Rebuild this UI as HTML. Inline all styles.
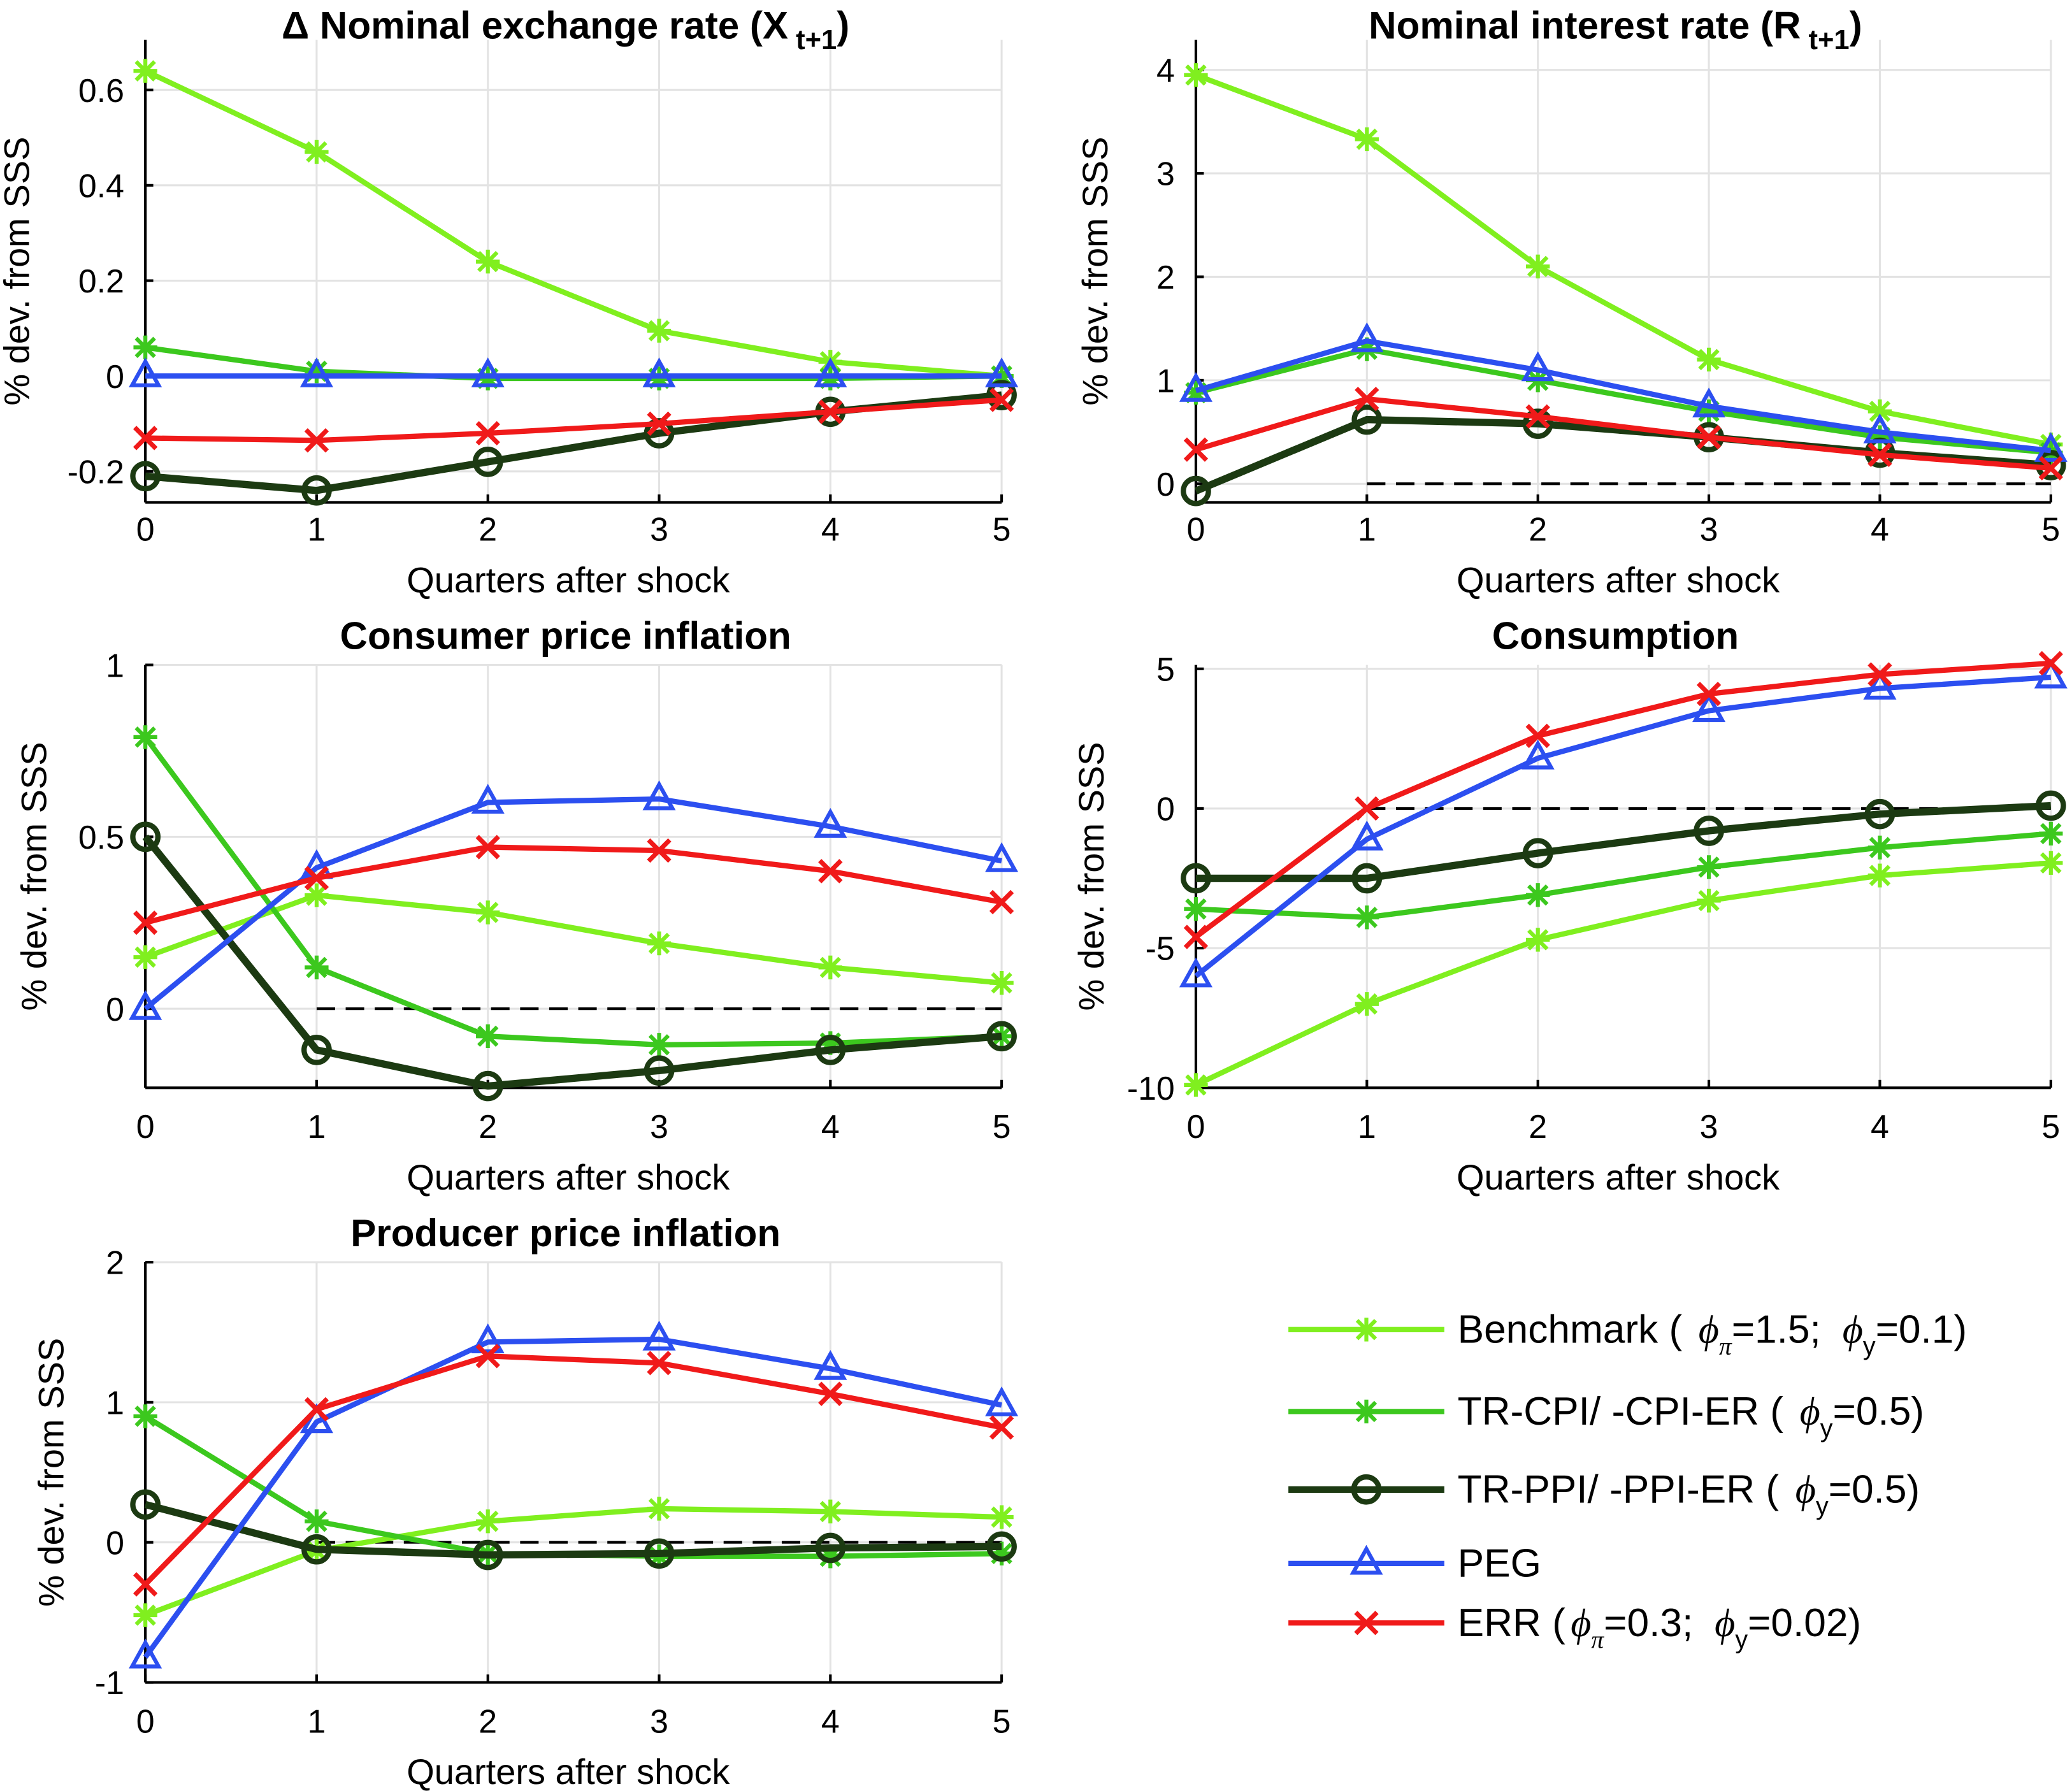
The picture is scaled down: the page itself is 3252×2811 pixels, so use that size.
<!DOCTYPE html>
<html><head><meta charset="utf-8">
<style>html,body{margin:0;padding:0;background:#fff}svg{display:block}</style>
</head><body>
<svg id="chart" xmlns="http://www.w3.org/2000/svg" width="3252" height="2811" viewBox="0 0 1568 1355" font-family="Liberation Sans, sans-serif">
<rect width="1568" height="1355" fill="#fff"/>
<g id="legend">
  <g>
    <line x1="975" y1="1006" x2="1093" y2="1006" stroke="#80ef1f" stroke-width="4"/>
    <text x="1103" y="1016" font-size="30">Benchmark ( <tspan dx="4" font-family="Liberation Serif" font-style="italic">ϕ</tspan><tspan font-size="19" dy="9" font-family="Liberation Serif" font-style="italic">π</tspan><tspan dy="-9">=1.5; </tspan><tspan dx="8" font-family="Liberation Serif" font-style="italic">ϕ</tspan><tspan font-size="19" dy="9">y</tspan><tspan dy="-9">=0.1)</tspan></text>
  </g>
  <g>
    <line x1="975" y1="1068" x2="1093" y2="1068" stroke="#3cc81e" stroke-width="4"/>
    <text x="1103" y="1078" font-size="30">TR-CPI/ -CPI-ER ( <tspan dx="4" font-family="Liberation Serif" font-style="italic">ϕ</tspan><tspan font-size="19" dy="9">y</tspan><tspan dy="-9">=0.5)</tspan></text>
  </g>
  <g>
    <line x1="975" y1="1127" x2="1093" y2="1127" stroke="#1c3a12" stroke-width="5"/>
    <text x="1103" y="1137" font-size="30">TR-PPI/ -PPI-ER ( <tspan dx="4" font-family="Liberation Serif" font-style="italic">ϕ</tspan><tspan font-size="19" dy="9">y</tspan><tspan dy="-9">=0.5)</tspan></text>
  </g>
  <g>
    <line x1="975" y1="1183" x2="1093" y2="1183" stroke="#2c4ff0" stroke-width="4"/>
    <text x="1103" y="1193" font-size="30">PEG</text>
  </g>
  <g>
    <line x1="975" y1="1228" x2="1093" y2="1228" stroke="#f01a1a" stroke-width="4"/>
    <text x="1103" y="1238" font-size="30">ERR (<tspan dx="4" font-family="Liberation Serif" font-style="italic">ϕ</tspan><tspan font-size="19" dy="9" font-family="Liberation Serif" font-style="italic">π</tspan><tspan dy="-9">=0.3; </tspan><tspan dx="8" font-family="Liberation Serif" font-style="italic">ϕ</tspan><tspan font-size="19" dy="9">y</tspan><tspan dy="-9">=0.02)</tspan></text>
  </g>
</g>
</svg>
<script>
const quarters = [0,1,2,3,4,5];
const seriesNames = ['benchmark','tr-cpi','tr-ppi','peg','err'];
// Panel 1: Delta nominal exchange rate
const exBenchmark = [0.64,0.47,0.24,0.095,0.03,0.0];
const exTrCpi = [0.06,0.01,-0.005,-0.005,-0.005,0.0];
const exTrPpi = [-0.21,-0.24,-0.18,-0.12,-0.075,-0.04];
const exPeg = [0,0,0,0,0,0];
const exErr = [-0.13,-0.135,-0.12,-0.1,-0.075,-0.05];
const exTicks = [-0.2,0,0.2,0.4,0.6];
// Panel 2: nominal interest rate
const irBenchmark = [3.95,3.33,2.1,1.2,0.7,0.38];
const irTrCpi = [0.88,1.3,1.0,0.7,0.45,0.3];
const irTrPpi = [-0.07,0.62,0.58,0.45,0.3,0.18];
const irPeg = [0.9,1.38,1.1,0.75,0.5,0.32];
const irErr = [0.33,0.82,0.65,0.45,0.28,0.15];
const irTicks = [0,1,2,3,4];
// Panel 3: CPI inflation
const cpiBenchmark = [0.15,0.33,0.28,0.19,0.12,0.075];
const cpiTrCpi = [0.79,0.12,-0.08,-0.105,-0.1,-0.08];
const cpiTrPpi = [0.5,-0.12,-0.225,-0.18,-0.12,-0.08];
const cpiPeg = [0,0.41,0.6,0.61,0.53,0.43];
const cpiErr = [0.25,0.38,0.47,0.46,0.4,0.31];
const cpiTicks = [0,0.5,1];
// Panel 4: consumption
const cBenchmark = [-9.9,-7,-4.7,-3.3,-2.4,-1.95];
const cTrCpi = [-3.6,-3.9,-3.1,-2.1,-1.4,-0.9];
const cTrPpi = [-2.5,-2.5,-1.6,-0.8,-0.2,0.1];
const cPeg = [-6,-1.1,1.8,3.5,4.3,4.7];
const cErr = [-4.6,0,2.6,4.1,4.8,5.2];
const cTicks = [-10,-5,0,5];
// Panel 5: PPI inflation
const ppiBenchmark = [-0.52,-0.06,0.15,0.24,0.22,0.18];
const ppiTrCpi = [0.9,0.15,-0.08,-0.1,-0.1,-0.08];
const ppiTrPpi = [0.27,-0.05,-0.09,-0.08,-0.04,-0.03];
const ppiPeg = [-0.82,0.86,1.43,1.45,1.24,0.98];
const ppiErr = [-0.3,0.95,1.33,1.28,1.06,0.82];
const ppiTicks = [-1,0,1,2];

const colors = {benchmark:'#80ef1f','tr-cpi':'#3cc81e','tr-ppi':'#1c3a12',peg:'#2c4ff0',err:'#f01a1a'};
const markers = {benchmark:'star','tr-cpi':'star','tr-ppi':'circle',peg:'tri',err:'x'};
const widths = {benchmark:4,'tr-cpi':4,'tr-ppi':5.5,peg:4,err:4};
const NS='http://www.w3.org/2000/svg';
const svg=document.getElementById('chart');
function mk(tag,attrs,parent){const e=document.createElementNS(NS,tag);for(const k in attrs)e.setAttribute(k,attrs[k]);parent.appendChild(e);return e;}

const panels=[
 {name:'exchange-rate',title:'Δ Nominal exchange rate (X',sub:'t+1',x0:110,x1:758,top:30,bot:380,ymin:-0.265,ymax:0.705,ticks:exTicks,data:[exBenchmark,exTrCpi,exTrPpi,exPeg,exErr],ylx:22,ticky:400,ty:29},
 {name:'interest-rate',title:'Nominal interest rate (R',sub:'t+1',x0:905,x1:1552,top:30,bot:380,ymin:-0.18,ymax:4.29,ticks:irTicks,data:[irBenchmark,irTrCpi,irTrPpi,irPeg,irErr],ylx:838,ticky:400,ty:29},
 {name:'cpi-inflation',title:'Consumer price inflation',x0:110,x1:758,top:503,bot:823,ymin:-0.23,ymax:1,ticks:cpiTicks,data:[cpiBenchmark,cpiTrCpi,cpiTrPpi,cpiPeg,cpiErr],ylx:35,ticky:852,ty:491},
 {name:'consumption',title:'Consumption',x0:905,x1:1552,top:503,bot:823,ymin:-10,ymax:5.14,ticks:cTicks,data:[cBenchmark,cTrCpi,cTrPpi,cPeg,cErr],ylx:835,ticky:852,ty:491},
 {name:'ppi-inflation',title:'Producer price inflation',x0:110,x1:758,top:955,bot:1273,ymin:-1,ymax:2,ticks:ppiTicks,data:[ppiBenchmark,ppiTrCpi,ppiTrPpi,ppiPeg,ppiErr],ylx:48,ticky:1302,ty:943}
];

function marker(g,type,x,y,col){
  const r=9;
  if(type==='circle'){mk('circle',{cx:x,cy:y,r:r+0.5,fill:'none',stroke:col,'stroke-width':4},g);}
  else if(type==='tri'){mk('polygon',{points:`${x},${y-r-2} ${x-r-1},${y+r-2} ${x+r+1},${y+r-2}`,fill:'none',stroke:col,'stroke-width':3},g);}
  else if(type==='x'){mk('path',{d:`M${x-8},${y-8}L${x+8},${y+8}M${x-8},${y+8}L${x+8},${y-8}`,stroke:col,'stroke-width':3.5},g);}
  else {mk('path',{d:`M${x-9},${y}L${x+9},${y}M${x},${y-9}L${x},${y+9}M${x-7},${y-7}L${x+7},${y+7}M${x-7},${y+7}L${x+7},${y-7}`,stroke:col,'stroke-width':3},g);}
}

panels.forEach(p=>{
  const g=mk('g',{},svg);
  
  
  const sx=v=>p.x0+(v-quarters[0])/(quarters[quarters.length-1]-quarters[0])*(p.x1-p.x0);
  const sy=v=>p.bot-(v-p.ymin)/(p.ymax-p.ymin)*(p.bot-p.top);
  quarters.forEach(q=>{mk('line',{x1:sx(q),y1:p.top,x2:sx(q),y2:p.bot,stroke:'#e3e3e3','stroke-width':1.5},g);});
  p.ticks.forEach(t=>{mk('line',{x1:p.x0,y1:sy(t),x2:p.x1,y2:sy(t),stroke:'#e3e3e3','stroke-width':1.5},g);});
  const ax=mk('line',{x1:p.x0,y1:p.top,x2:p.x0,y2:p.bot,stroke:'#000','stroke-width':2},g);
  
  const bx=mk('line',{x1:p.x0,y1:p.bot,x2:p.x1,y2:p.bot,stroke:'#000','stroke-width':2},g);
  
  p.ticks.forEach(t=>{
    mk('line',{x1:p.x0,y1:sy(t),x2:p.x0+6,y2:sy(t),stroke:'#000','stroke-width':2},g);
    const tl=mk('text',{x:p.x0-16,y:sy(t)+9,'font-size':25,'text-anchor':'end'},g);
    
    tl.textContent=String(t);
  });
  quarters.forEach(q=>{
    mk('line',{x1:sx(q),y1:p.bot,x2:sx(q),y2:p.bot-6,stroke:'#000','stroke-width':2},g);
    const tl=mk('text',{x:sx(q),y:p.ticky+9,'font-size':25,'text-anchor':'middle'},g);
    
    tl.textContent=q;
  });
  const xl=mk('text',{x:(p.x0+p.x1)/2-4,y:p.ticky+48,'font-size':27,'text-anchor':'middle'},g);
  
  xl.textContent='Quarters after shock';
  const yc=(p.top+p.bot)/2;
  const yl=mk('text',{x:p.ylx,y:yc,'font-size':27,'text-anchor':'middle',transform:`rotate(-90 ${p.ylx} ${yc})`},g);
  
  yl.textContent='% dev. from SSS';
  const tt=mk('text',{x:(p.x0+p.x1)/2-6,y:p.ty,'font-size':29,'font-weight':'bold','text-anchor':'middle'},g);
  
  tt.textContent=p.title;
  if(p.sub){
    const s=mk('tspan',{'font-size':21,dy:8},tt);s.textContent=' '+p.sub;
    const c=mk('tspan',{dy:-8},tt);c.textContent=')';
  }
  const z=mk('line',{x1:sx(1),y1:sy(0),x2:p.x1,y2:sy(0),stroke:'#000','stroke-width':2,'stroke-dasharray':'14,8'},g);
  
  p.data.forEach((vals,i)=>{
    const nm=seriesNames[i],col=colors[nm];
    const sg=mk('g',{},g);
    
    
    mk('polyline',{points:vals.map((v,k)=>sx(quarters[k])+','+sy(v)).join(' '),fill:'none',stroke:col,'stroke-width':widths[nm],'stroke-linejoin':'round'},sg);
    vals.forEach((v,k)=>marker(sg,markers[nm],sx(quarters[k]),sy(v),col));
  });
});
const legY=[1006,1068,1127,1183,1228];
seriesNames.forEach((nm,i)=>marker(document.getElementById('legend'),markers[nm],1034,legY[i],colors[nm]));
</script>
</body></html>
